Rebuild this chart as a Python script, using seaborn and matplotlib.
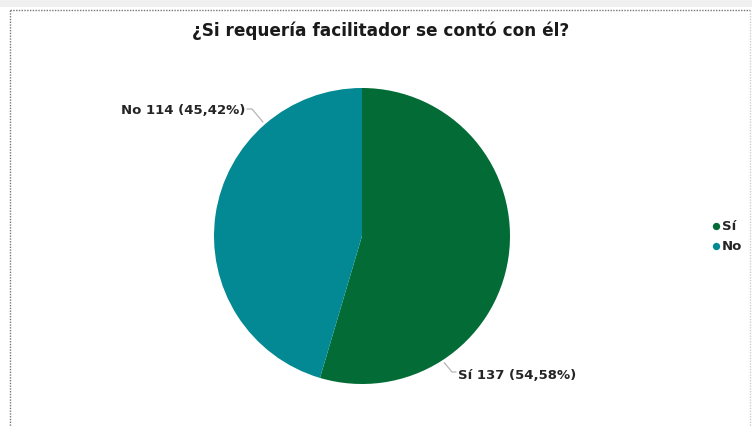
import numpy as np
import matplotlib.pyplot as plt
import seaborn as sns
from matplotlib.patches import Rectangle

title = "¿Si requería facilitador se contó con él?"
categories = ["Sí", "No"]
counts = [137, 114]
percents = ["54,58%", "45,42%"]
colors = ["#036B35", "#028993"]

sns.set_theme(style="white")
plt.rcParams['font.family'] = ['DejaVu Sans']

fig = plt.figure(figsize=(7.52, 4.27), dpi=100)
ax = fig.add_axes([0, 0, 1, 1])

# top grey strip and dotted frame like the report visual
ax.add_patch(Rectangle((0, 0), 752, 8, color="#f0f0f0", lw=0))
ax.plot([10, 750], [11, 11], color="#777777", lw=1, ls=(0, (1, 1)))
ax.plot([10, 10], [11, 427], color="#777777", lw=1, ls=(0, (1, 1)))
ax.plot([750, 750], [11, 427], color="#cccccc", lw=1, ls=(0, (1, 1)))

# condensed look: narrow the glyphs horizontally isn't possible, so size to width
ax.text(381, 31, title, ha='center', va='center', fontsize=12.2,
        fontweight='bold', color="#1a1a1a")

cx, cy, r = 362, 237, 148
wedges, _ = ax.pie(counts, colors=colors, startangle=-90, counterclock=True,
                   center=(cx, cy), radius=r, frame=True,
                   wedgeprops=dict(linewidth=0))
ax.set_xlim(0, 752)
ax.set_ylim(427, 0)
ax.set_aspect('equal')
ax.axis('off')

# labels with leader lines (y axis inverted: angles measured downward)
label_specs = [
    (57, (452, 373), (458, 376), 'left'),
    (-131, (252, 110), (245, 110), 'right'),
]
for (ang, knee, tpos, ha), cat, n, p in zip(label_specs, categories, counts, percents):
    a = np.deg2rad(ang)
    px, py = cx + (r + 3) * np.cos(a), cy + (r + 3) * np.sin(a)
    ax.plot([px, knee[0], tpos[0] + (-2 if ha == 'left' else 2)],
            [py, knee[1], knee[1]], color="#b5b5b5", lw=0.9)
    ax.text(tpos[0], tpos[1], f"{cat} {n} ({p})", ha=ha, va='center',
            fontsize=9.5, fontweight='bold', color="#252525")

# legend
for i, (cat, c) in enumerate(zip(categories, colors)):
    y = 227 + i * 20
    ax.scatter([716], [y], s=28, color=c, lw=0)
    ax.text(722, y, cat, ha='left', va='center', fontsize=9.5,
            fontweight='bold', color="#252525")

fig.savefig("out.png", dpi=100)
